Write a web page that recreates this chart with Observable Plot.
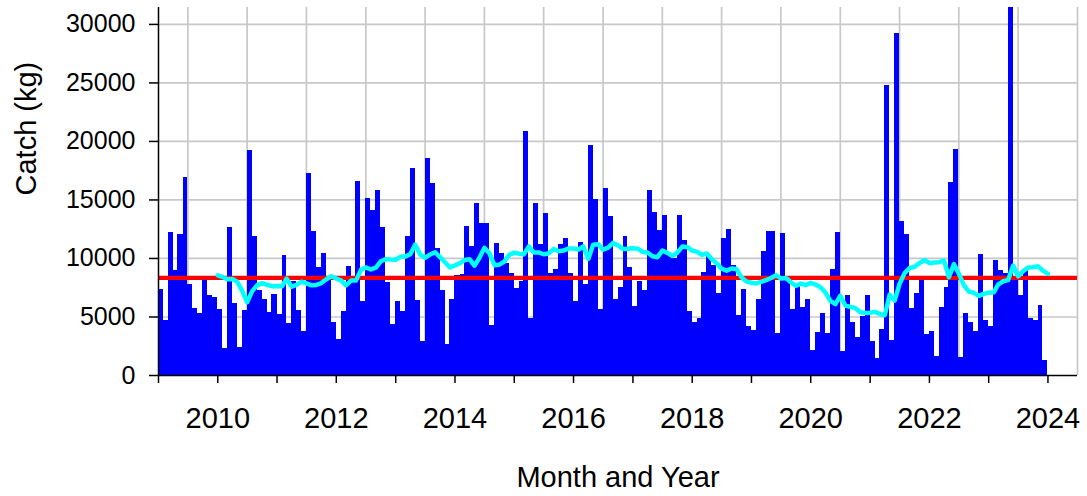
<!DOCTYPE html>
<html>
<head>
<meta charset="utf-8">
<script src="https://cdn.jsdelivr.net/npm/d3@7"></script>
<script src="https://cdn.jsdelivr.net/npm/@observablehq/plot@0.6"></script>
<style>
  html, body { margin: 0; padding: 0; background: #ffffff; }
  #chart svg { display: block; }
</style>
</head>
<body>
<div id="chart"></div>
<script>
// Monthly catch (kg), January..December of each year
const startYear = 2009;
const catch2009 = [7370, 4710, 12200, 9000, 12060, 16940, 7800, 5710, 5290, 8140, 6860, 6630];
const catch2010 = [5630, 2340, 12630, 6140, 2370, 5570, 19200, 11860, 7300, 6500, 5400, 6900];
const catch2011 = [5200, 10260, 4430, 8000, 5570, 3800, 17230, 12290, 9230, 10430, 8400, 4540];
const catch2012 = [3060, 5460, 9290, 8000, 16570, 6290, 15140, 14140, 15800, 12630, 7940, 4370];
const catch2013 = [6290, 5430, 11860, 17710, 6430, 2940, 18540, 16430, 10860, 7300, 2630, 6510];
const catch2014 = [8570, 8600, 12730, 11020, 14660, 13010, 13010, 4260, 11310, 10450, 9600, 8700];
const catch2015 = [7440, 8000, 20820, 4910, 14660, 11170, 13860, 8750, 9030, 11170, 11730, 8690];
const catch2016 = [6340, 11360, 7760, 19630, 15000, 5680, 16000, 13580, 6480, 7530, 11860, 9230];
const catch2017 = [5860, 8060, 7290, 15770, 13970, 12430, 13710, 10300, 10000, 13690, 11570, 5430];
const catch2018 = [4570, 4910, 8770, 10140, 9430, 7000, 11710, 12490, 9430, 5140, 7340, 4200];
const catch2019 = [3860, 6490, 10630, 12290, 12290, 3630, 12140, 8140, 5660, 7570, 5800, 6490];
const catch2020 = [2140, 3660, 5290, 3630, 9060, 12200, 2090, 6800, 4490, 3230, 5060, 6800];
const catch2021 = [2940, 1490, 3940, 24800, 3000, 29200, 13200, 12060, 5710, 7000, 8290, 3490];
const catch2022 = [3780, 1650, 5770, 7560, 16510, 19350, 1510, 5340, 4550, 3780, 10370, 4720];
const catch2023 = [4200, 9800, 8980, 8750, 31420, 8240, 6820, 9090, 4830, 4720, 5990, 1310];

const meanCatch = 8340;                 // red reference line
const movingWindow = 12;                // cyan line: trailing 12-month mean
const yTicks = [0, 5000, 10000, 15000, 20000, 25000, 30000];
const tickYears = [2009, 2010, 2011, 2012, 2013, 2014, 2015, 2016, 2017, 2018, 2019, 2020, 2021, 2022, 2023, 2024];
const labelYears = [2010, 2012, 2014, 2016, 2018, 2020, 2022, 2024];
const yMax = 31444;

const yearArrays = [catch2009, catch2010, catch2011, catch2012, catch2013, catch2014, catch2015,
  catch2016, catch2017, catch2018, catch2019, catch2020, catch2021, catch2022, catch2023];

const data = [];
yearArrays.forEach((arr, yi) => arr.forEach((v, mi) => {
  data.push({
    date: new Date(Date.UTC(startYear + yi, mi, 1)),
    next: new Date(Date.UTC(startYear + yi, mi + 1, 1)),
    catch: v
  });
}));

const domainStart = new Date(Date.UTC(2009, 0, 1));
const domainEnd = new Date(Date.UTC(2024, 6, 1));
const yearDates = tickYears.map(y => new Date(Date.UTC(y, 0, 1)));
const gridDates = tickYears.map(y => new Date(Date.UTC(y, 6, 1)));

const chart = Plot.plot({
  width: 1087,
  height: 496,
  marginLeft: 158,
  marginRight: 10,
  marginTop: 7,
  marginBottom: 121,
  style: { fontFamily: "'Liberation Sans', Arial, sans-serif", background: "#ffffff", color: "#000000" },
  x: { type: "utc", domain: [domainStart, domainEnd] },
  y: { domain: [0, yMax] },
  marks: [
    Plot.gridY(yTicks.filter(d => d > 0), { stroke: "#c8c8c8", strokeOpacity: 1, strokeWidth: 1.7 }),
    Plot.gridX(gridDates, { stroke: "#c8c8c8", strokeOpacity: 1, strokeWidth: 1.7 }),
    Plot.rectY(data, { x1: "date", x2: "next", y: "catch", fill: "#0000ff", shapeRendering: "crispEdges" }),
    Plot.ruleY([meanCatch], { stroke: "#ff0000", strokeWidth: 4.3 }),
    Plot.lineY(data, Plot.windowY(
      { k: movingWindow, anchor: "end", reduce: "mean", strict: true },
      { x: "next", y: "catch", stroke: "#00ffff", strokeWidth: 4.5, strokeLinejoin: "round", strokeLinecap: "round" }
    )),
    Plot.axisY(yTicks, { tickSize: 9, tickPadding: 14, fontSize: 25, strokeWidth: 1.5, label: null, tickFormat: d => String(d) }),
    Plot.axisX(yearDates, {
      tickSize: 8, tickPadding: 24, fontSize: 29, strokeWidth: 1.5, label: null,
      tickFormat: d => labelYears.includes(d.getUTCFullYear()) ? String(d.getUTCFullYear()) : ""
    }),
    Plot.ruleX([domainStart], { stroke: "#000000", strokeWidth: 1.5 }),
    Plot.ruleY([0], { stroke: "#000000", strokeWidth: 1.5 }),
    Plot.text(["Month and Year"], { frameAnchor: "bottom", dy: 111, lineAnchor: "bottom", fontSize: 29, fill: "#000000" }),
    Plot.text(["Catch (kg)"], { frameAnchor: "left", rotate: -90, dx: -123, dy: 4, lineAnchor: "bottom", fontSize: 29, fill: "#000000" })
  ]
});

document.getElementById("chart").appendChild(chart);
</script>
</body>
</html>
